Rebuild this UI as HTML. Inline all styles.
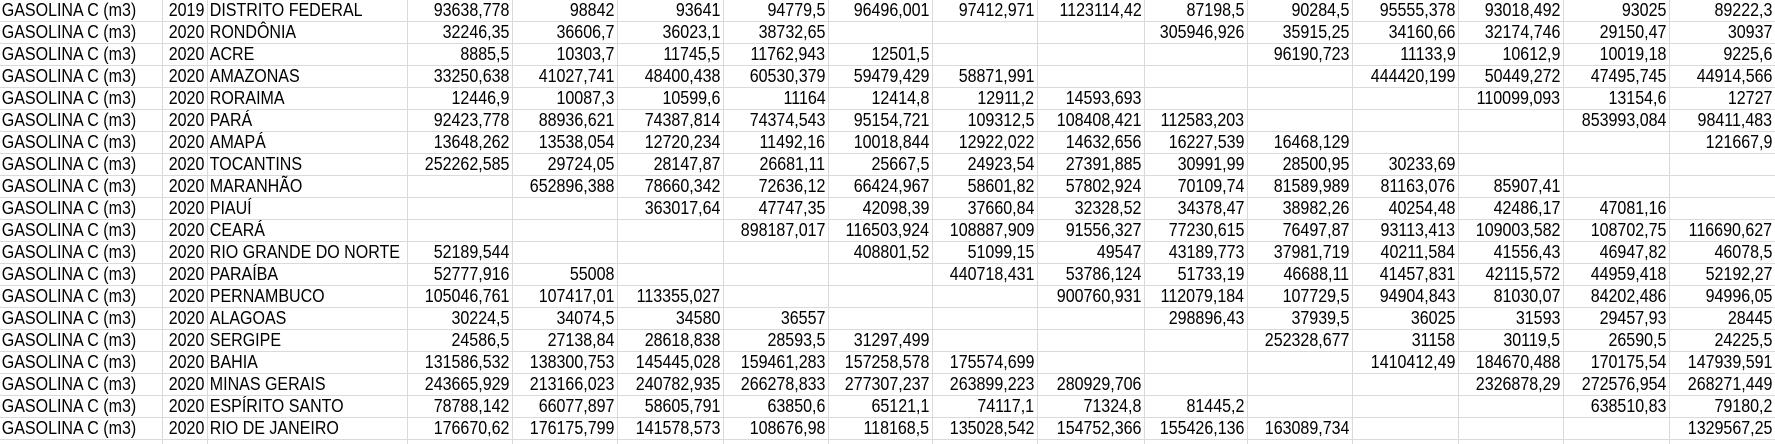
<!DOCTYPE html>
<html><head><meta charset="utf-8">
<style>
html,body{margin:0;padding:0;background:#fff;width:1775px;height:444px;overflow:hidden}
#sheet{position:relative;width:1775px;height:444px;font-family:"Liberation Sans",Arial,sans-serif;font-size:18px;color:#000}
.c{position:absolute;height:21px;border-right:1px solid #dadada;border-bottom:1px solid #dadada;box-sizing:content-box;overflow:visible;white-space:nowrap;line-height:21px}
.c span{display:inline-block;transform:scaleX(.89)}
.l span{transform-origin:left center;padding-left:2px}
.r{text-align:right}
.r span{transform-origin:right center;padding-right:3px}
</style></head>
<body>
<div id="sheet"></div>
<script>
const products = "GASOLINA C (m3)";
const years = ["2019","2020","2020","2020","2020","2020","2020","2020","2020","2020","2020","2020","2020","2020","2020","2020","2020","2020","2020","2020"];
const states = ["DISTRITO FEDERAL","RONDÔNIA","ACRE","AMAZONAS","RORAIMA","PARÁ","AMAPÁ","TOCANTINS","MARANHÃO","PIAUÍ","CEARÁ","RIO GRANDE DO NORTE","PARAÍBA","PERNAMBUCO","ALAGOAS","SERGIPE","BAHIA","MINAS GERAIS","ESPÍRITO SANTO","RIO DE JANEIRO"];
const values = [
["93638,778","98842","93641","94779,5","96496,001","97412,971","1123114,42","87198,5","90284,5","95555,378","93018,492","93025","89222,3"],
["32246,35","36606,7","36023,1","38732,65","","","","305946,926","35915,25","34160,66","32174,746","29150,47","30937"],
["8885,5","10303,7","11745,5","11762,943","12501,5","","","","96190,723","11133,9","10612,9","10019,18","9225,6"],
["33250,638","41027,741","48400,438","60530,379","59479,429","58871,991","","","","444420,199","50449,272","47495,745","44914,566"],
["12446,9","10087,3","10599,6","11164","12414,8","12911,2","14593,693","","","","110099,093","13154,6","12727"],
["92423,778","88936,621","74387,814","74374,543","95154,721","109312,5","108408,421","112583,203","","","","853993,084","98411,483"],
["13648,262","13538,054","12720,234","11492,16","10018,844","12922,022","14632,656","16227,539","16468,129","","","","121667,9"],
["252262,585","29724,05","28147,87","26681,11","25667,5","24923,54","27391,885","30991,99","28500,95","30233,69","","",""],
["","652896,388","78660,342","72636,12","66424,967","58601,82","57802,924","70109,74","81589,989","81163,076","85907,41","",""],
["","","363017,64","47747,35","42098,39","37660,84","32328,52","34378,47","38982,26","40254,48","42486,17","47081,16",""],
["","","","898187,017","116503,924","108887,909","91556,327","77230,615","76497,87","93113,413","109003,582","108702,75","116690,627"],
["52189,544","","","","408801,52","51099,15","49547","43189,773","37981,719","40211,584","41556,43","46947,82","46078,5"],
["52777,916","55008","","","","440718,431","53786,124","51733,19","46688,11","41457,831","42115,572","44959,418","52192,27"],
["105046,761","107417,01","113355,027","","","","900760,931","112079,184","107729,5","94904,843","81030,07","84202,486","94996,05"],
["30224,5","34074,5","34580","36557","","","","298896,43","37939,5","36025","31593","29457,93","28445"],
["24586,5","27138,84","28618,838","28593,5","31297,499","","","","252328,677","31158","30119,5","26590,5","24225,5"],
["131586,532","138300,753","145445,028","159461,283","157258,578","175574,699","","","","1410412,49","184670,488","170175,54","147939,591"],
["243665,929","213166,023","240782,935","266278,833","277307,237","263899,223","280929,706","","","","2326878,29","272576,954","268271,449"],
["78788,142","66077,897","58605,791","63850,6","65121,1","74117,1","71324,8","81445,2","","","","638510,83","79180,2"],
["176670,62","176175,799","141578,573","108676,98","118168,5","135028,542","154752,366","155426,136","163089,734","","","","1329567,25"]
];
const sheet = document.getElementById('sheet');
const edges = [-1,162,207,407,512,617,723,828,932,1037,1144,1247,1352,1458,1563,1669,1775];
const rowH = 22;
function cell(r, ci, txt, cls, name){
  const d = document.createElement('div');
  d.className = 'c ' + cls;
  d.style.left = (edges[ci]+1) + 'px';
  d.style.top = (r*rowH) + 'px';
  d.style.width = (edges[ci+1]-edges[ci]-1) + 'px';
  
  
  const s = document.createElement('span');
  s.textContent = txt;
  d.appendChild(s);
  sheet.appendChild(d);
}
for (let r = 0; r < 21; r++) {
  const has = r < states.length;
  cell(r, 0, has ? products : "", 'l', 'product-cell');
  cell(r, 1, has ? years[r] : "", 'r', 'year-cell');
  cell(r, 2, has ? states[r] : "", 'l', 'state-cell');
  for (let k = 0; k < 13; k++) {
    cell(r, 3+k, has ? values[r][k] : "", 'r', 'value-cell');
  }
}
</script>
</body></html>
